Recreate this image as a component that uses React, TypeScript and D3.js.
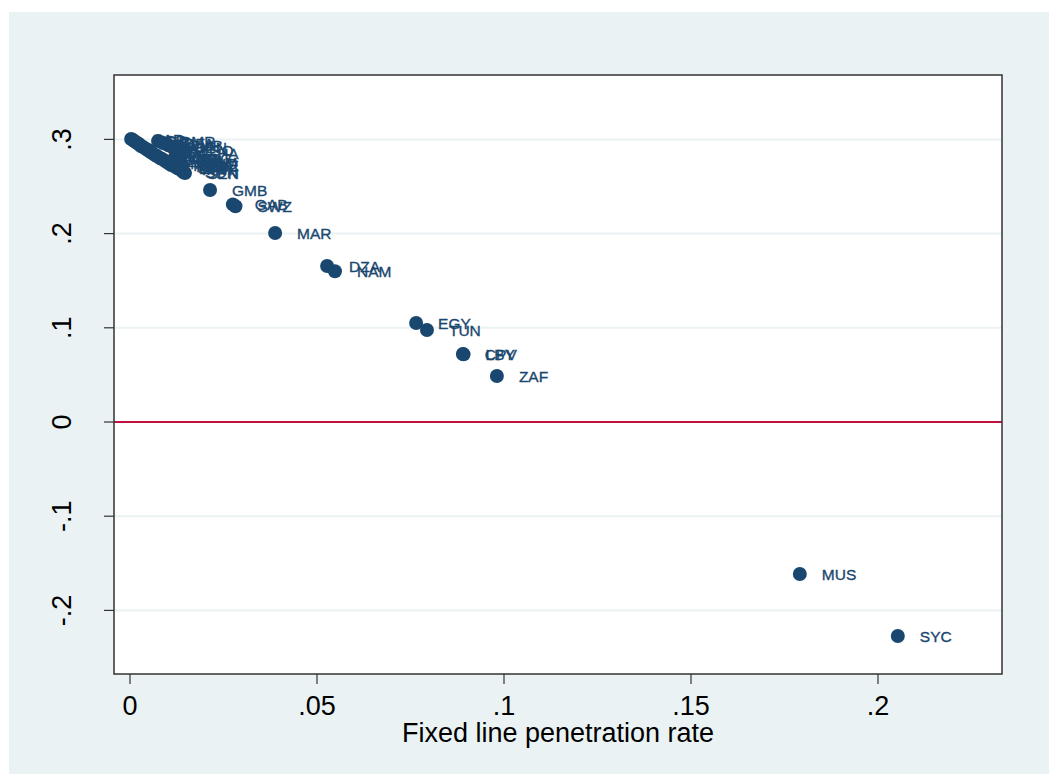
import React from "react";
import * as d3 from "d3";

const countries = [
  "ZAR","TCD","NER","CAF","RWA","GIN","UGA","BDI","TZA","MOZ","MDG","SLE","MLI","CMR","AGO","GNB","BFA","ETH","MWI","ZMB","NGA","BEN","KEN","ERI","TGO","MRT","SDN","GHA","COG","DJI","COM","GNQ","CIV","ZWE","LSO",
  "SEN","GMB","GAB","SWZ","MAR","DZA","NAM","EGY","TUN","CPV","LBY","ZAF","MUS","SYC"
];
const fixedLine = [
  0.0003,0.0008,0.0013,0.0019,0.0024,0.0029,0.0035,0.0043,0.0048,0.0053,0.0059,0.0067,0.0072,0.0075,0.0080,0.0086,0.0088,0.0094,0.0102,0.0102,0.0110,0.0115,0.0118,0.0126,0.0128,0.0134,0.0142,0.0142,0.0120,0.0125,0.0132,0.0136,0.0115,0.0140,0.0123,
  0.0147,0.0214,0.0275,0.0282,0.0388,0.0527,0.0548,0.0765,0.0794,0.0890,0.0892,0.0981,0.1791,0.2053
];
const fitted = [
  0.3004,0.2994,0.2978,0.2962,0.2951,0.2930,0.2919,0.2898,0.2887,0.2872,0.2856,0.2834,0.2824,0.2983,0.2803,0.2792,0.2962,0.2771,0.2749,0.2941,0.2728,0.2919,0.2718,0.2696,0.2887,0.2680,0.2654,0.2856,0.2800,0.2780,0.2760,0.2740,0.2781,0.2720,0.2707,
  0.2643,0.2463,0.2310,0.2290,0.2006,0.1656,0.1600,0.1051,0.0977,0.0722,0.0718,0.0488,-0.1614,-0.2272
];
const xTicks = [0, 0.05, 0.1, 0.15, 0.2];
const xTickLabels = ["0", ".05", ".1", ".15", ".2"];
const yTicks = [-0.2, -0.1, 0, 0.1, 0.2, 0.3];
const yTickLabels = ["-.2", "-.1", "0", ".1", ".2", ".3"];
const xTitle = "Fixed line penetration rate";

const W = 1049, H = 774;
const plot = { left: 114, right: 1002, top: 75, bottom: 674 };
const navy = "#1a476f";
const font = "'Liberation Sans', Arial, sans-serif";

export default function App() {
  const x = d3.scaleLinear().domain([0, 0.2]).range([130, 878]);
  const y = d3.scaleLinear().domain([0, 0.3]).range([422, 139.4]);
  const pts = countries.map((c, i) => ({ c, x: fixedLine[i], y: fitted[i] }));
  return (
    <svg width={W} height={H} style={{ position: "absolute", left: 0, top: 0, display: "block" }}>
      <rect x={0} y={0} width={W} height={H} fill="#ffffff" />
      <rect x={9} y={12} width={W - 9} height={H - 12} fill="#eaf2f3" />
      <rect x={plot.left} y={plot.top} width={plot.right - plot.left} height={plot.bottom - plot.top} fill="#ffffff" />
      {yTicks.filter((t) => t !== 0).map((t) => (
        <line key={"g" + t} x1={plot.left} x2={plot.right} y1={y(t)} y2={y(t)} stroke="#eaf2f3" strokeWidth={2} />
      ))}
      <line x1={plot.left} x2={plot.right} y1={y(0)} y2={y(0)} stroke="#c0123c" strokeWidth={2} />
      {pts.map((p) => (
        <circle key={"c" + p.c} cx={x(p.x)} cy={y(p.y)} r={7} fill={navy} />
      ))}
      {pts.map((p) => (
        <text key={"l" + p.c} x={x(p.x) + 22} y={y(p.y)} dy="0.36em" fontFamily={font} fontSize={15.5} fill={navy} stroke={navy} strokeWidth={0.35}>{p.c}</text>
      ))}
      <rect x={plot.left} y={plot.top} width={plot.right - plot.left} height={plot.bottom - plot.top} fill="none" stroke="#333" strokeWidth={1.5} />
      {yTicks.map((t, i) => (
        <g key={"yt" + t}>
          <line x1={plot.left - 10} x2={plot.left} y1={y(t)} y2={y(t)} stroke="#333" strokeWidth={1.2} />
          <text transform={`translate(${71},${y(t)}) rotate(-90)`} textAnchor="middle" fontFamily={font} fontSize={27} fill="#000">{yTickLabels[i]}</text>
        </g>
      ))}
      {xTicks.map((t, i) => (
        <g key={"xt" + t}>
          <line x1={x(t)} x2={x(t)} y1={plot.bottom} y2={plot.bottom + 10} stroke="#333" strokeWidth={1.2} />
          <text x={x(t)} y={715} textAnchor="middle" fontFamily={font} fontSize={27} fill="#000">{xTickLabels[i]}</text>
        </g>
      ))}
      <text x={558} y={742} textAnchor="middle" fontFamily={font} fontSize={27} fill="#000">{xTitle}</text>
    </svg>
  );
}
